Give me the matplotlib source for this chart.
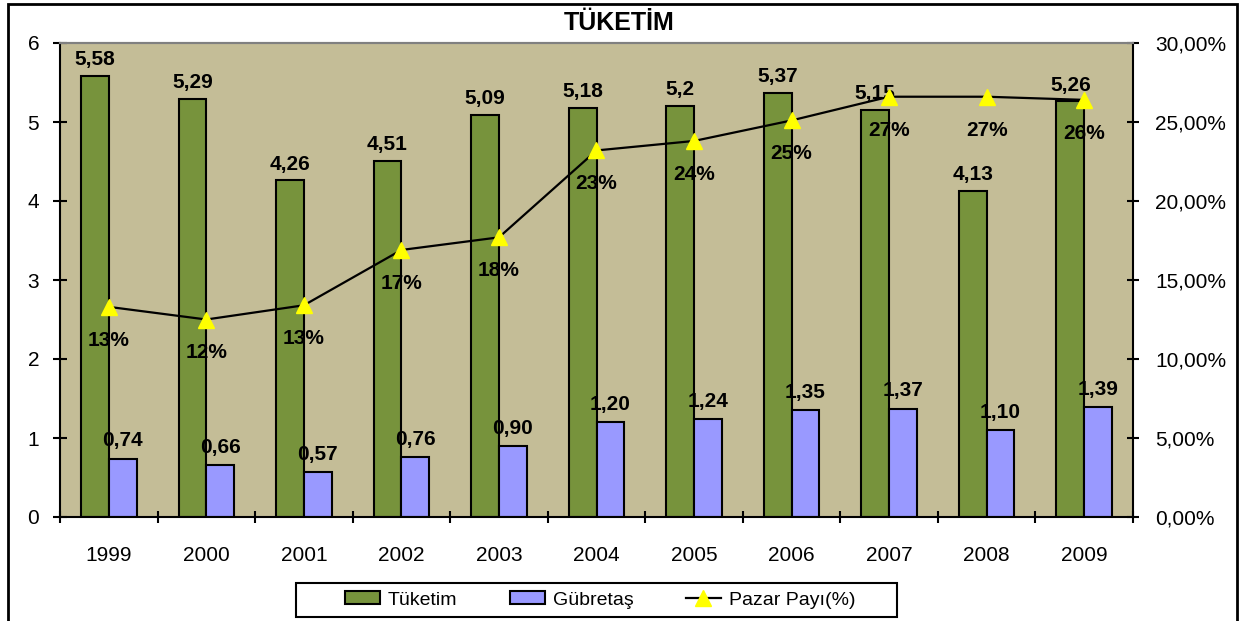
import matplotlib
matplotlib.use("Agg")
import matplotlib.pyplot as plt
import matplotlib.patches as mpatches
from matplotlib.lines import Line2D
import numpy as np

plt.rcParams['font.family'] = ['Liberation Sans', 'DejaVu Sans']

years = ['1999', '2000', '2001', '2002', '2003', '2004', '2005', '2006', '2007', '2008', '2009']
tuketim = [5.58, 5.29, 4.26, 4.51, 5.09, 5.18, 5.2, 5.37, 5.15, 4.13, 5.26]
gubretas = [0.74, 0.66, 0.57, 0.76, 0.90, 1.20, 1.24, 1.35, 1.37, 1.10, 1.39]
pazar_payi = [13.3, 12.5, 13.4, 16.9, 17.7, 23.2, 23.8, 25.1, 26.6, 26.6, 26.4]

GREEN = '#77933C'
BLUE = '#9999FF'
BG = '#C4BD97'

fig = plt.figure(figsize=(12.39, 6.21), dpi=100)
ax = fig.add_axes([60 / 1239, 1 - 517 / 621, (1133 - 60) / 1239, (517 - 43) / 621])
ax.set_facecolor(BG)

x = np.arange(len(years))
w = 0.285
ax.bar(x - w / 2, tuketim, w, color=GREEN, edgecolor='black', linewidth=1.5, zorder=2)
ax.bar(x + w / 2, gubretas, w, color=BLUE, edgecolor='black', linewidth=1.5, zorder=2)

# value labels on the bars
for xi, v in zip(x, tuketim):
    ax.annotate(f"{v:g}".replace('.', ','), (xi - w / 2, v), xytext=(0, 5),
                textcoords='offset points', ha='center', va='bottom',
                fontsize=15, fontweight='bold', zorder=5)
for xi, v in zip(x, gubretas):
    ax.annotate(f"{v:.2f}".replace('.', ','), (xi + w / 2, v), xytext=(0, 6),
                textcoords='offset points', ha='center', va='bottom',
                fontsize=15, fontweight='bold', zorder=5)

ax.set_xlim(-0.5, len(years) - 0.5)
ax.set_ylim(0, 6)
ax.set_yticks(range(0, 7))
ax.set_xticks(x)
ax.set_xticklabels(years)
ax.set_xticks(np.arange(-0.5, len(years)), minor=True)
ax.tick_params(axis='x', which='major', length=0, pad=21, labelsize=15)
ax.tick_params(axis='x', which='minor', length=9, width=1.5, direction='inout')
ax.tick_params(axis='y', length=10, width=1.5, direction='inout', pad=10, labelsize=15)

for s in ['left', 'bottom']:
    ax.spines[s].set_linewidth(1.5)
ax.spines['top'].set_color('#808080')
ax.spines['top'].set_linewidth(1.5)
ax.spines['right'].set_visible(False)

# market share line on the right axis
ax2 = ax.twinx()
ax2.plot(x, pazar_payi, color='black', linewidth=1.6, marker='^', markersize=11,
         markerfacecolor='#FFFF00', markeredgecolor='#FFFF00', zorder=4)
for xi, v in zip(x, pazar_payi):
    ax2.annotate(f"{v:.0f}%", (xi, v), xytext=(0, -24), textcoords='offset points',
                 ha='center', va='center', fontsize=15, fontweight='bold')
ax2.set_ylim(0, 30)
ax2.set_yticks(range(0, 31, 5))
ax2.set_yticklabels([f"{t:.2f}%".replace('.', ',') for t in range(0, 31, 5)])
ax2.tick_params(axis='y', length=8, width=1.5, direction='inout', pad=12, labelsize=15)
ax2.spines['right'].set_linewidth(1.5)
ax2.spines['top'].set_color('#808080')
ax2.spines['top'].set_linewidth(1.5)
for s in ['left', 'bottom']:
    ax2.spines[s].set_visible(False)

fig.text(0.5, 1 - 23 / 621, 'TÜKETİM', ha='center', va='center', fontsize=18, fontweight='bold')

# legend: frameless, with its own box drawn around it
handles = [
    mpatches.Patch(facecolor=GREEN, edgecolor='black', linewidth=1.5, label='Tüketim'),
    mpatches.Patch(facecolor=BLUE, edgecolor='black', linewidth=1.5, label='Gübretaş'),
    Line2D([], [], color='black', linewidth=1.6, marker='^', markersize=11,
           markerfacecolor='#FFFF00', markeredgecolor='#FFFF00', label='Pazar Payı(%)'),
]
fig.legend(handles=handles, loc='center', bbox_to_anchor=(600 / 1239, 1 - 600 / 621),
           ncol=3, fontsize=14, frameon=False, handlelength=1.8, handleheight=0.65,
           handletextpad=0.4, columnspacing=2.7, borderaxespad=0)
legbox = mpatches.Rectangle((296 / 1239, 1 - 617 / 621), (897 - 296) / 1239, 34 / 621,
                            transform=fig.transFigure, fill=False, edgecolor='black',
                            linewidth=1.5)
fig.patches.append(legbox)

border = mpatches.Rectangle((8 / 1239, -0.1), (1237 - 8) / 1239, 1.1 - 4 / 621,
                            transform=fig.transFigure, fill=False, edgecolor='black',
                            linewidth=2)
fig.patches.append(border)

fig.savefig('out.png', dpi=100)
